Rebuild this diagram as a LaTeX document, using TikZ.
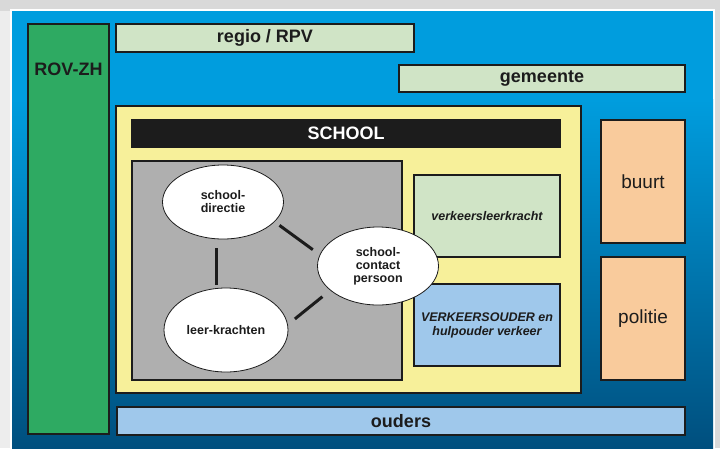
\documentclass[tikz,border=0pt]{standalone}
\usepackage{fontspec}
\setmainfont{Liberation Sans}
\usetikzlibrary{shapes.geometric}
\definecolor{bluetop}{HTML}{009DDE}
\definecolor{bluebot}{HTML}{004F7E}
\definecolor{rovgreen}{HTML}{2EAA62}
\definecolor{palegreen}{HTML}{D0E4C6}
\definecolor{schoolyellow}{HTML}{F7F09A}
\definecolor{greybox}{HTML}{AFAFAF}
\definecolor{paleblue}{HTML}{9FC8EB}
\definecolor{peach}{HTML}{F9CB9C}
\definecolor{ink}{HTML}{1C1C1C}
\tikzset{
  box/.style={draw=ink, line width=2pt, rectangle, inner sep=0pt},
  bigtxt/.style={font=\fontsize{18}{20}\selectfont\bfseries, text=ink},
  regtxt/.style={font=\fontsize{19}{21}\selectfont, text=ink},
  smalltxt/.style={font=\fontsize{12.5}{13}\selectfont\bfseries, text=ink, align=center},
  itxt/.style={font=\fontsize{12.5}{14}\selectfont\bfseries\itshape, text=ink, align=center},
  oval/.style={ellipse, draw=ink, line width=0.8pt, fill=white, inner sep=0pt},
  link/.style={draw=ink, line width=3pt}
}
\begin{document}
\begin{tikzpicture}[x=1pt,y=-1pt]
\useasboundingbox (0,0) rectangle (720,448);
% surroundings
\fill[white!85!black] (0,0) rectangle (720,448);
\fill[white!93!black] (0,11) rectangle (12,448);
\fill[white] (10,9) rectangle (715,448);
% blue panel
\fill[bluetop] (12,11) rectangle (713,100);
\shade[top color=bluetop, bottom color=bluebot] (12,99.5) rectangle (713,448);

% outer boxes
\node[box, fill=rovgreen, minimum width=81pt, minimum height=410pt] (rov) at (68.5,229) {};
\node[bigtxt] (rovtxt) at (68.5,69) {ROV-ZH};
\node[box, fill=palegreen, minimum width=298pt, minimum height=28pt, bigtxt] (regio) at (265,38) {regio / RPV};
\node[box, fill=palegreen, minimum width=286pt, minimum height=27pt, bigtxt] (gem) at (542,78.5) {gemeente};
\node[box, fill=schoolyellow, minimum width=465pt, minimum height=287pt] (school) at (348.5,249.5) {};
\node[box, fill=ink, minimum width=428pt, minimum height=27pt, bigtxt, text=white] (bar) at (346,133.5) {SCHOOL};
\node[box, fill=greybox, line width=2.5pt, minimum width=270pt, minimum height=219pt] (grey) at (267,270.5) {};
\node[box, fill=palegreen, line width=2.5pt, minimum width=146pt, minimum height=82pt, itxt] (vlk) at (487,216) {verkeersleerkracht};
\node[box, fill=paleblue, line width=2.5pt, minimum width=146pt, minimum height=82pt, itxt] (vo) at (487,325) {VERKEERSOUDER en\\hulpouder verkeer};
\node[box, fill=peach, minimum width=84pt, minimum height=123pt, regtxt] (buurt) at (643,181.5) {buurt};
\node[box, fill=peach, minimum width=84pt, minimum height=123pt, regtxt] (pol) at (643,318.5) {politie};
\node[box, fill=paleblue, minimum width=568pt, minimum height=28pt, bigtxt] (ouders) at (401,421) {ouders};

% ellipses
\node[oval, minimum width=121pt, minimum height=74pt, smalltxt] (dir) at (223,202) {school-\\directie};
\node[oval, minimum width=121pt, minimum height=78pt, smalltxt] (scp) at (378,266) {school-\\contact\\persoon};
\node[oval, minimum width=124pt, minimum height=84pt, smalltxt] (lk) at (226,330) {leer-krachten};

% connectors
\draw[link, shorten <=9pt, shorten >=3pt] ([xshift=-7pt]dir.south) -- ([xshift=-7pt]dir.south |- lk.north);
\draw[link, shorten <=6pt, shorten >=8.5pt] (dir.-21) -- (scp.169);
\draw[link, shorten <=9pt, shorten >=10pt] (lk.5.5) -- (scp.207);
\end{tikzpicture}
\end{document}
